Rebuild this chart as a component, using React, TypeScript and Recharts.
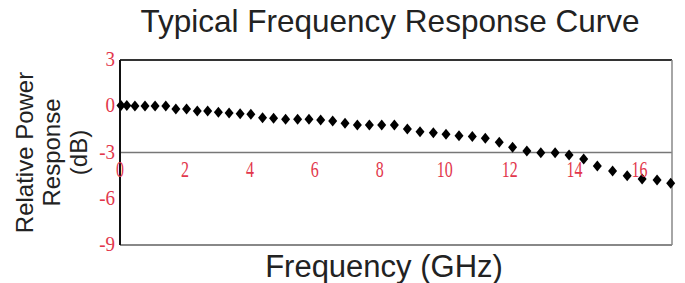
import { ScatterChart, Scatter, XAxis, YAxis, ReferenceLine, Label } from "recharts"

const freqGHz = [
  0.03, 0.21, 0.46, 0.77, 1.08, 1.41, 1.72, 2.05, 2.38, 2.7, 3.03, 3.36, 3.7, 4.03, 4.39, 4.73, 5.1, 5.47, 5.82,
  6.18, 6.55, 6.93, 7.31, 7.68, 8.06, 8.45, 8.85, 9.24, 9.65, 10.04, 10.44, 10.85, 11.25, 11.68, 12.09, 12.53,
  12.96, 13.4, 13.83, 14.28, 14.7, 15.17, 15.62, 16.08, 16.54, 16.96,
]
const responseDb = [
  0.05, 0.05, 0.02, 0.02, 0.02, 0.02, -0.18, -0.18, -0.31, -0.31, -0.39, -0.44, -0.48, -0.52, -0.74, -0.78, -0.85,
  -0.85, -0.85, -0.89, -0.96, -1.11, -1.22, -1.22, -1.22, -1.22, -1.48, -1.65, -1.72, -1.82, -1.91, -1.97, -2.08,
  -2.34, -2.66, -2.9, -3.01, -3.01, -3.16, -3.42, -3.88, -4.2, -4.5, -4.72, -4.78, -5.0,
]
const xTicks = [0, 2, 4, 6, 8, 10, 12, 14, 16]
const yTicks = [3, 0, -3, -6, -9]
const yLabelLines = ["Relative Power", "Response", "(dB)"]

const data = freqGHz.map((f, i) => ({ f, db: responseDb[i] }))

const RED = "#e2374c"
const SANS = "'Liberation Sans', Arial, sans-serif"
const SERIF = "'Liberation Serif', 'Times New Roman', serif"

function Diamond(props: any) {
  const { cx, cy } = props
  return <polygon points={`${cx},${cy - 5.5} ${cx + 4.5},${cy} ${cx},${cy + 5.5} ${cx - 4.5},${cy}`} fill="#000" />
}

function XTick(props: any) {
  const { x, y, payload } = props
  // labels sit just under the -3 dB line, not at the bottom of the plot
  return (
    <g transform={`translate(${x},${y - 76}) scale(1,1.5)`}>
      <text x={0} y={0} textAnchor="middle" fill={RED} fontSize={16} fontFamily={SERIF}>
        {payload.value}
      </text>
    </g>
  )
}

function YTick(props: any) {
  const { x, y, payload } = props
  return (
    <g transform={`translate(${x - 1},${y + 6}) scale(1,1.15)`}>
      <text x={0} y={0} textAnchor="end" fill={RED} fontSize={19} fontFamily={SERIF}>
        {payload.value}
      </text>
    </g>
  )
}

function YTitle(props: any) {
  const cy = props.viewBox ? props.viewBox.y + props.viewBox.height / 2 : 152
  return (
    <g>
      {yLabelLines.map((line, i) => {
        const bx = 33 + i * 27
        return (
          <text
            key={line}
            x={bx}
            y={cy}
            transform={`rotate(-90, ${bx}, ${cy})`}
            textAnchor="middle"
            fontSize={24}
            fontFamily={SANS}
            fill="#222"
          >
            {line}
          </text>
        )
      })}
    </g>
  )
}

export default function App() {
  return (
    <div style={{ position: "absolute", left: 0, top: 0, width: 685, height: 283, background: "#fff" }}>
      <div
        style={{
          position: "absolute",
          left: 0,
          width: 780,
          top: 2,
          textAlign: "center",
          fontFamily: SANS,
          fontSize: 31.5,
          color: "#222",
          lineHeight: "38px",
        }}
      >
        Typical Frequency Response Curve
      </div>
      <ScatterChart width={685} height={283} margin={{ top: 60, right: 13, bottom: 0, left: 0 }}>
        <XAxis
          type="number"
          dataKey="f"
          domain={[0, 17]}
          ticks={xTicks}
          interval={0}
          axisLine={false}
          tickLine={false}
          tick={<XTick />}
          height={38}
        >
          <Label
            value="Frequency (GHz)"
            position="insideBottom"
            offset={6}
            dx={-12}
            style={{ fontSize: 31, fontFamily: SANS, fill: "#222" }}
          />
        </XAxis>
        <YAxis
          type="number"
          dataKey="db"
          domain={[-9, 3]}
          ticks={yTicks}
          interval={0}
          width={120}
          tickLine={false}
          tickSize={0}
          tickMargin={4}
          axisLine={{ stroke: "#111", strokeWidth: 2 }}
          tick={<YTick />}
          label={<YTitle />}
        />
        <ReferenceLine y={3} stroke="#333" strokeWidth={2} />
        <ReferenceLine y={-3} stroke="#777" strokeWidth={1.5} />
        <ReferenceLine y={-9} stroke="#888" strokeWidth={2} />
        <ReferenceLine x={17} stroke="#888" strokeWidth={1.5} />
        <Scatter data={data} shape={<Diamond />} isAnimationActive={false} />
      </ScatterChart>
    </div>
  )
}
